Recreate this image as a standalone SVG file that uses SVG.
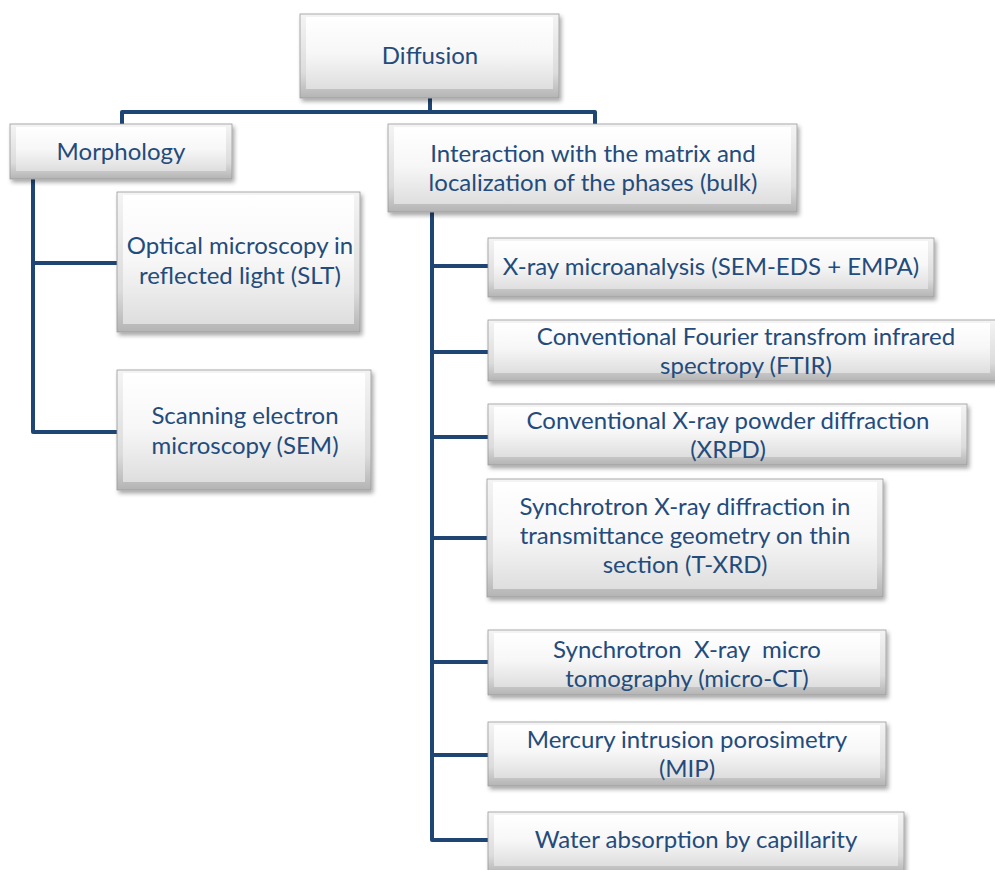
<svg xmlns="http://www.w3.org/2000/svg" width="995" height="870" viewBox="0 0 995 870">
<defs>
  <linearGradient id="outer" x1="0" y1="0" x2="0" y2="1">
    <stop offset="0" stop-color="#f4f4f4"/>
    <stop offset="0.7" stop-color="#dcdcdc"/>
    <stop offset="1" stop-color="#b4b4b4"/>
  </linearGradient>
  <linearGradient id="inner" x1="0" y1="0" x2="0" y2="1">
    <stop offset="0" stop-color="#ffffff"/>
    <stop offset="0.5" stop-color="#f7f7f7"/>
    <stop offset="1" stop-color="#dedede"/>
  </linearGradient>
  <filter id="sh" x="-10%" y="-10%" width="130%" height="140%">
    <feDropShadow dx="2" dy="3" stdDeviation="2" flood-color="#000" flood-opacity="0.35"/>
  </filter>
</defs>
<style>
  .box .o { fill: url(#outer); stroke: #9a9a9a; stroke-width: 0.8; filter: url(#sh); }
  .box .i { fill: url(#inner); }
  .box text { font-family: Lato, "Open Sans", "Liberation Sans", sans-serif; font-size: 24px; fill: #234b7c; text-anchor: middle; }
  .conn path { fill: none; stroke: #1f4575; stroke-width: 4; stroke-linejoin: round; }
</style>
<rect width="995" height="870" fill="#ffffff"/>

<g id="connectors" class="conn">
  <path d="M430 97 V112 M122 124 V112 H595 V124"/>
  <path d="M33 179 V432 H118 M33 263 H118"/>
  <path d="M432 212 V840 H490 M432 266 H490 M432 352 H490 M432 437 H490 M432 538 H490 M432 662 H490 M432 755 H490"/>
</g>

<g id="n-diffusion" class="box">
  <rect class="o" x="300" y="14" width="259" height="84"/>
  <rect class="i" x="306" y="17" width="247" height="72"/>
  <text x="430" y="64">Diffusion</text>
</g>
<g id="n-morphology" class="box">
  <rect class="o" x="10" y="124" width="222" height="55"/>
  <rect class="i" x="16" y="127" width="210" height="44"/>
  <text x="121" y="160">Morphology</text>
</g>
<g id="n-interaction" class="box">
  <rect class="o" x="388" y="124" width="409" height="88"/>
  <rect class="i" x="394" y="127" width="397" height="77"/>
  <text x="593" y="162">Interaction with the matrix and</text>
  <text x="593" y="191">localization of the phases (bulk)</text>
</g>
<g id="n-optical" class="box">
  <rect class="o" x="117" y="192" width="243" height="140"/>
  <rect class="i" x="123" y="195" width="231" height="129"/>
  <text x="240" y="254">Optical microscopy in</text>
  <text x="240" y="284">reflected light (SLT)</text>
</g>
<g id="n-sem" class="box">
  <rect class="o" x="117" y="370" width="254" height="120"/>
  <rect class="i" x="123" y="373" width="242" height="109"/>
  <text x="245" y="424">Scanning electron</text>
  <text x="245" y="454">microscopy (SEM)</text>
</g>
<g id="n-xray" class="box">
  <rect class="o" x="488" y="238" width="446" height="59"/>
  <rect class="i" x="494" y="241" width="434" height="48"/>
  <text x="711" y="275">X-ray microanalysis (SEM-EDS + EMPA)</text>
</g>
<g id="n-ftir" class="box">
  <rect class="o" x="488" y="320" width="508" height="61"/>
  <rect class="i" x="494" y="323" width="496" height="50"/>
  <text x="746" y="345">Conventional Fourier transfrom infrared</text>
  <text x="746" y="374">spectropy (FTIR)</text>
</g>
<g id="n-xrpd" class="box">
  <rect class="o" x="488" y="404" width="479" height="61"/>
  <rect class="i" x="494" y="407" width="467" height="50"/>
  <text x="728" y="429">Conventional X-ray powder diffraction</text>
  <text x="728" y="458">(XRPD)</text>
</g>
<g id="n-txrd" class="box">
  <rect class="o" x="487" y="479" width="396" height="118"/>
  <rect class="i" x="493" y="482" width="384" height="107"/>
  <text x="685" y="515">Synchrotron X-ray diffraction in</text>
  <text x="685" y="544">transmittance geometry on thin</text>
  <text x="685" y="573">section (T-XRD)</text>
</g>
<g id="n-microct" class="box">
  <rect class="o" x="488" y="630" width="398" height="65"/>
  <rect class="i" x="494" y="633" width="386" height="54"/>
  <text x="687" y="658" xml:space="preserve">Synchrotron  X-ray  micro</text>
  <text x="687" y="687">tomography (micro-CT)</text>
</g>
<g id="n-mip" class="box">
  <rect class="o" x="488" y="722" width="398" height="64"/>
  <rect class="i" x="494" y="725" width="386" height="53"/>
  <text x="687" y="748">Mercury intrusion porosimetry</text>
  <text x="687" y="777">(MIP)</text>
</g>
<g id="n-water" class="box">
  <rect class="o" x="488" y="812" width="416" height="62"/>
  <rect class="i" x="494" y="815" width="404" height="51"/>
  <text x="696" y="848">Water absorption by capillarity</text>
</g>
</svg>
